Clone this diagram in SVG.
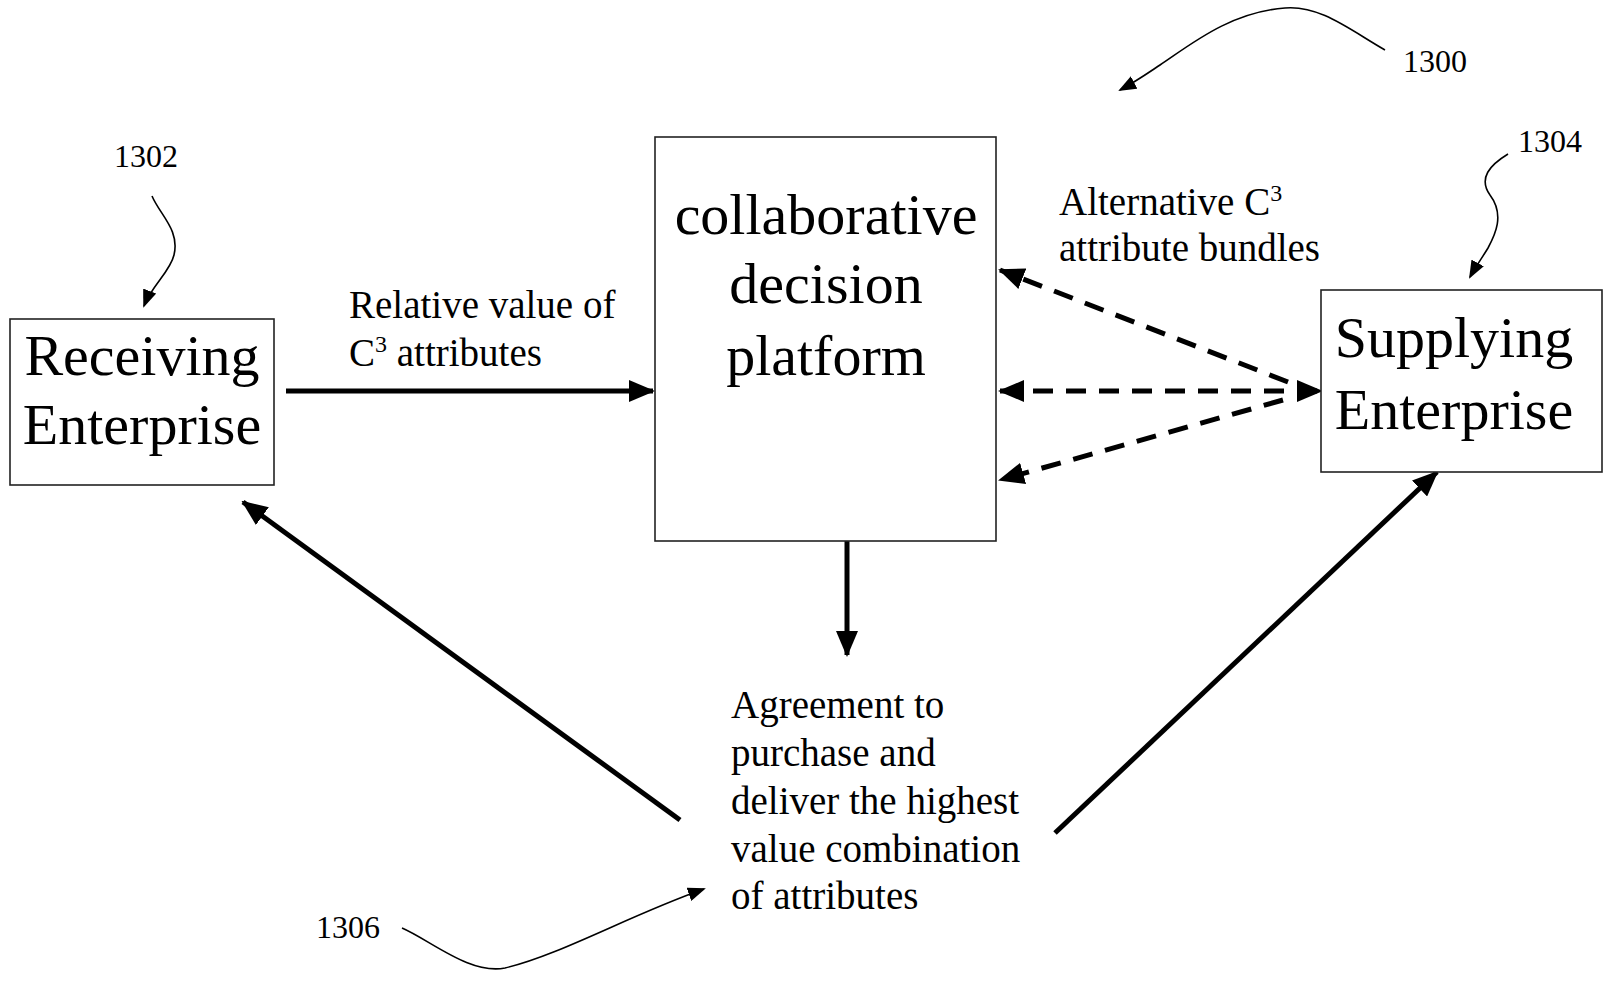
<svg xmlns="http://www.w3.org/2000/svg" width="1609" height="984" viewBox="0 0 1609 984">
<style>
  .box { fill: #fff; stroke: #222; stroke-width: 1.6; }
  .big { font-family: "Liberation Serif", "Times New Roman", serif; font-size: 58px; fill: #000; text-anchor: middle; }
  .lbl { font-family: "Liberation Serif", "Times New Roman", serif; font-size: 39px; fill: #000; }
  .ref { font-family: "Liberation Serif", "Times New Roman", serif; font-size: 32px; fill: #000; }
  .solid { stroke: #000; stroke-width: 5; fill: none; marker-end: url(#ah); }
  .dash { stroke: #000; stroke-width: 5; fill: none; stroke-dasharray: 20 13; }
  .lead { stroke: #000; stroke-width: 1.6; fill: none; marker-end: url(#sh); }
  .sup { font-size: 24px; }
</style>
<defs>
  <marker id="ah" markerUnits="userSpaceOnUse" markerWidth="26" markerHeight="22" refX="24" refY="11" orient="auto">
    <path d="M0,0 L26,11 L0,22 z" fill="#000"/>
  </marker>
  <marker id="ahs" markerUnits="userSpaceOnUse" markerWidth="26" markerHeight="22" refX="24" refY="11" orient="auto-start-reverse">
    <path d="M0,0 L26,11 L0,22 z" fill="#000"/>
  </marker>
  <marker id="sh" markerUnits="userSpaceOnUse" markerWidth="18" markerHeight="14" refX="16" refY="7" orient="auto">
    <path d="M0,0 L18,7 L0,14 z" fill="#000"/>
  </marker>
</defs>

<g id="connectors">
  <line class="solid" x1="286" y1="391" x2="653" y2="391"/>
  <line class="solid" x1="847" y1="541" x2="847" y2="655"/>
  <line class="solid" x1="680" y1="820" x2="243" y2="502"/>
  <line class="solid" x1="1055" y1="833" x2="1437" y2="472"/>
  <line class="dash" x1="1288" y1="382" x2="1000" y2="270" marker-end="url(#ah)"/>
  <line class="dash" x1="1000" y1="391" x2="1321" y2="391" marker-start="url(#ahs)" marker-end="url(#ah)"/>
  <line class="dash" x1="1283" y1="400" x2="1000" y2="480" marker-end="url(#ah)"/>
  <path class="lead" d="M1385,50 C1350,30 1320,5 1285,8 C1230,12 1190,45 1160,65 C1145,75 1135,82 1120,90"/>
  <path class="lead" d="M152,196 C160,215 180,230 174,255 C170,272 152,285 144,306"/>
  <path class="lead" d="M1508,154 C1490,165 1478,178 1490,195 C1505,215 1495,235 1488,248 C1482,258 1476,266 1470,277"/>
  <path class="lead" d="M402,928 C430,940 470,975 505,968 C560,955 630,915 704,889"/>
</g>

<g id="receiving">
  <rect class="box" x="10" y="319" width="264" height="166"/>
  <text class="big" x="142" y="375">Receiving</text>
  <text class="big" x="142" y="444">Enterprise</text>
</g>

<g id="platform">
  <rect class="box" x="655" y="137" width="341" height="404"/>
  <text class="big" x="826" y="234">collaborative</text>
  <text class="big" x="826" y="303">decision</text>
  <text class="big" x="826" y="375">platform</text>
</g>

<g id="supplying">
  <rect class="box" x="1321" y="290" width="281" height="182"/>
  <text class="big" x="1454" y="357">Supplying</text>
  <text class="big" x="1454" y="429">Enterprise</text>
</g>

<g id="label-relative">
  <text class="lbl" x="349" y="318">Relative value of</text>
  <text class="lbl" x="349" y="366">C<tspan class="sup" dy="-14">3</tspan><tspan dy="14"> attributes</tspan></text>
</g>

<g id="label-alternative">
  <text class="lbl" x="1059" y="215">Alternative C<tspan class="sup" dy="-14">3</tspan></text>
  <text class="lbl" x="1059" y="261">attribute bundles</text>
</g>

<g id="agreement">
  <text class="lbl" x="731" y="718">Agreement to</text>
  <text class="lbl" x="731" y="766">purchase and</text>
  <text class="lbl" x="731" y="814">deliver the highest</text>
  <text class="lbl" x="731" y="862">value combination</text>
  <text class="lbl" x="731" y="909">of attributes</text>
</g>

<g id="refs">
  <text class="ref" x="1403" y="72">1300</text>
  <text class="ref" x="114" y="167">1302</text>
  <text class="ref" x="1518" y="152">1304</text>
  <text class="ref" x="316" y="938">1306</text>
</g>
</svg>
